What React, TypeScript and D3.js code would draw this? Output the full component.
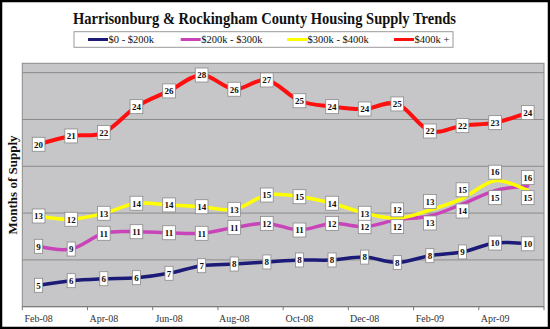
import React from "react";
import * as d3 from "d3";

const months = ["Feb-08","Mar-08","Apr-08","May-08","Jun-08","Jul-08","Aug-08","Sep-08","Oct-08","Nov-08","Dec-08","Jan-09","Feb-09","Mar-09","Apr-09","May-09"];
const tickLabels = ["Feb-08","Apr-08","Jun-08","Aug-08","Oct-08","Dec-08","Feb-09","Apr-09"];

const seriesNames = ["$0 - $200k", "$200k - $300k", "$300k - $400k", "$400k +"];
const low = [5.29, 5.78, 5.99, 6.10, 6.57, 7.38, 7.56, 7.78, 7.99, 7.99, 8.30, 7.72, 8.45, 8.85, 9.80, 9.72];
const midLow = [9.45, 9.16, 10.84, 11.01, 10.9, 10.84, 11.45, 11.9, 11.19, 11.9, 11.55, 12.3, 12.69, 13.97, 15.4, 15.9];
const midHigh = [12.69, 12.34, 12.98, 14.05, 13.87, 13.68, 13.4, 14.93, 14.75, 14.05, 12.98, 12.44, 13.33, 14.58, 16.46, 15.4];
const high = [20.35, 21.24, 21.6, 24.37, 26.05, 27.75, 26.23, 27.22, 25.0, 24.37, 24.12, 24.66, 21.77, 22.34, 22.66, 23.73];

// label placement: c = centered on point, a = above, b = below
const lowPos = "cccccccccccccccc";
const midLowPos = "cccccccccccbbbba";
const midHighPos = "cccccccccccaaaab";
const highPos = "cccccccccccccccc";

const colors = ["#1c1c78", "#c844b8", "#ffff00", "#ff1010"];
const yMin = 3, yMax = 29, yStep = 5;

const W = 550, H = 329;
const plot = { left: 22.3, right: 544, top: 63.3, bottom: 306.7 };
const serif = "'Liberation Serif', 'DejaVu Serif', serif";

export default function App() {
  const x = d3.scaleBand<string>().domain(months).range([plot.left, plot.right]);
  const cx = (m: string) => (x(m) as number) + x.bandwidth() / 2;
  const y = d3.scaleLinear().domain([yMin, yMax]).range([plot.bottom, plot.top]);
  const grid = d3.range(yMin + yStep, yMax, yStep);
  const line = d3.line<number>().x((_, i) => cx(months[i])).y(d => y(d)).curve(d3.curveCatmullRom.alpha(0));

  const series = [
    { name: seriesNames[0], values: low, pos: lowPos, color: colors[0], w: 3.5 },
    { name: seriesNames[1], values: midLow, pos: midLowPos, color: colors[1], w: 3.5 },
    { name: seriesNames[2], values: midHigh, pos: midHighPos, color: colors[2], w: 3.5 },
    { name: seriesNames[3], values: high, pos: highPos, color: colors[3], w: 4 },
  ];

  const tickIdx = months.map((m, i) => i).filter(i => i % 2 === 0);
  const legendX = [88, 180.7, 287, 394];

  return (
    <svg width={W} height={H} style={{ position: "absolute", left: 0, top: 0, background: "#fff" }} fontFamily={serif}>
      <rect x={1} y={1} width={W - 2} height={H - 2} fill="#fff" stroke="#000" strokeWidth={2.5} />
      <text x={264.5} y={24} textAnchor="middle" fontSize={16} fontWeight="bold" fill="#111" textLength={383} lengthAdjust="spacingAndGlyphs">
        Harrisonburg &amp; Rockingham County Housing Supply Trends
      </text>
      <rect x={74} y={31.7} width={379} height={15.6} fill="#fff" stroke="#999" strokeWidth={1} />
      {series.map((s, i) => (
        <g key={s.name}>
          <line x1={legendX[i]} x2={legendX[i] + 20} y1={39.5} y2={39.5} stroke={s.color} strokeWidth={3} />
          <text x={legendX[i] + 20.5} y={43.3} fontSize={10.5} fill="#111">{s.name}</text>
        </g>
      ))}
      <rect x={plot.left} y={plot.top} width={plot.right - plot.left} height={plot.bottom - plot.top} fill="#c6c6c8" stroke="#8a8a8a" strokeWidth={1} />
      {grid.map(g => (
        <line key={g} x1={plot.left} x2={plot.right} y1={y(g)} y2={y(g)} stroke="#8a8a8a" strokeWidth={1} />
      ))}
      <line x1={plot.left} x2={plot.right} y1={plot.bottom} y2={plot.bottom} stroke="#777" strokeWidth={1} />
      {tickIdx.map(i => (
        <line key={i} x1={x(months[i]) as number} x2={x(months[i]) as number} y1={plot.bottom} y2={plot.bottom + 3.5} stroke="#777" strokeWidth={1} />
      ))}
      <line x1={plot.right} x2={plot.right} y1={plot.bottom} y2={plot.bottom + 3.5} stroke="#777" strokeWidth={1} />
      {tickLabels.map(t => (
        <text key={t} x={cx(t)} y={321.5} textAnchor="middle" fontSize={10} fill="#333">{t}</text>
      ))}
      <text transform={`translate(16.5,${(plot.top + plot.bottom) / 2}) rotate(-90)`} textAnchor="middle" fontSize={13} fontWeight="bold" fill="#111">
        Months of Supply
      </text>
      {series.map(s => (
        <path key={s.name} d={line(s.values) || ""} fill="none" stroke={s.color} strokeWidth={s.w} strokeLinecap="round" />
      ))}
      {series.map(s => (
        <g key={s.name + "l"}>
          {s.values.map((v, i) => {
            const label = String(Math.round(v));
            const off = s.pos[i] === "a" ? -8.5 : s.pos[i] === "b" ? 7 : 0;
            const bw = 4.6 * label.length + 3.5;
            const bh = 14;
            const px = cx(months[i]);
            const py = y(v) + off;
            return (
              <g key={i}>
                <rect x={px - bw / 2} y={py - bh / 2} width={bw} height={bh} fill="#fff" stroke="#8a8a8a" strokeWidth={0.8} />
                <text x={px} y={py + 3.3} textAnchor="middle" fontSize={9} fontWeight="bold" fill="#111">{label}</text>
              </g>
            );
          })}
        </g>
      ))}
    </svg>
  );
}
